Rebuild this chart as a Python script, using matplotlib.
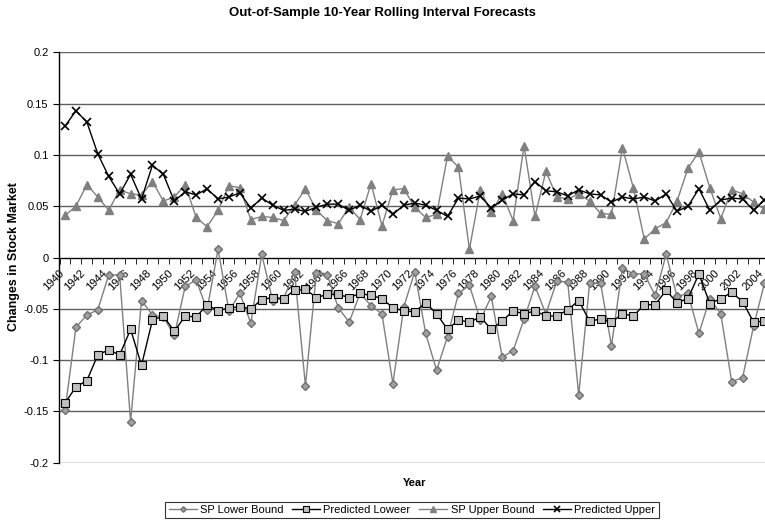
import numpy as np
import matplotlib
matplotlib.use("Agg")
import matplotlib.pyplot as plt
import matplotlib.transforms as mtransforms

plt.rcParams['font.family'] = ['Liberation Sans', 'DejaVu Sans']

years = list(range(1940, 2005))

sp_lower = [-0.149, -0.068, -0.056, -0.051, -0.017, -0.017, -0.160, -0.042, -0.056, -0.058,
            -0.076, -0.028, -0.022, -0.051, 0.008, -0.052, -0.035, -0.064, 0.003, -0.042,
            -0.040, -0.014, -0.125, -0.015, -0.017, -0.049, -0.063, -0.035, -0.047, -0.055,
            -0.123, -0.048, -0.014, -0.074, -0.110, -0.077, -0.035, -0.027, -0.061, -0.038,
            -0.097, -0.091, -0.060, -0.028, -0.055, -0.023, -0.024, -0.134, -0.025, -0.025,
            -0.086, -0.010, -0.016, -0.016, -0.037, 0.003, -0.038, -0.035, -0.074, -0.040,
            -0.055, -0.121, -0.117, -0.067, -0.025]

pred_lower = [-0.142, -0.126, -0.120, -0.095, -0.090, -0.095, -0.070, -0.105, -0.061, -0.057,
              -0.072, -0.057, -0.058, -0.046, -0.052, -0.049, -0.048, -0.050, -0.041, -0.039,
              -0.040, -0.032, -0.031, -0.039, -0.036, -0.036, -0.039, -0.035, -0.037, -0.040,
              -0.049, -0.052, -0.053, -0.044, -0.055, -0.070, -0.061, -0.063, -0.058, -0.070,
              -0.062, -0.052, -0.055, -0.052, -0.057, -0.057, -0.051, -0.042, -0.062, -0.060,
              -0.063, -0.055, -0.057, -0.046, -0.046, -0.032, -0.044, -0.040, -0.016, -0.045,
              -0.040, -0.034, -0.043, -0.063, -0.062]

sp_upper = [0.041, 0.050, 0.071, 0.059, 0.046, 0.066, 0.062, 0.061, 0.074, 0.055,
            0.059, 0.071, 0.039, 0.030, 0.046, 0.070, 0.068, 0.037, 0.040, 0.039,
            0.036, 0.051, 0.067, 0.046, 0.036, 0.033, 0.049, 0.037, 0.072, 0.031,
            0.066, 0.067, 0.049, 0.039, 0.042, 0.099, 0.088, 0.008, 0.066, 0.044,
            0.062, 0.036, 0.109, 0.040, 0.084, 0.059, 0.057, 0.062, 0.055, 0.043,
            0.042, 0.107, 0.068, 0.018, 0.028, 0.034, 0.055, 0.087, 0.103, 0.068,
            0.038, 0.066, 0.062, 0.054, 0.047]

pred_upper = [0.128, 0.143, 0.132, 0.101, 0.079, 0.062, 0.081, 0.057, 0.090, 0.081,
              0.055, 0.064, 0.061, 0.067, 0.057, 0.059, 0.063, 0.048, 0.058, 0.051,
              0.046, 0.047, 0.045, 0.049, 0.052, 0.052, 0.046, 0.051, 0.045, 0.051,
              0.042, 0.051, 0.053, 0.051, 0.046, 0.040, 0.058, 0.057, 0.060, 0.048,
              0.056, 0.062, 0.061, 0.074, 0.065, 0.064, 0.060, 0.066, 0.062, 0.061,
              0.054, 0.059, 0.057, 0.059, 0.055, 0.062, 0.045, 0.050, 0.067, 0.046,
              0.056, 0.058, 0.057, 0.046, 0.056]

x = np.arange(len(years))

fig = plt.figure(figsize=(7.65, 5.22), dpi=100)
ax = fig.add_axes([59/765, 59.3/522, 711.5/765, 410.4/522])

ax.plot(x, sp_lower, color='#808080', lw=1, marker='D', ms=4, mfc='#a0a0a0', mec='#707070',
        label='SP Lower Bound', zorder=3)
ax.plot(x, pred_lower, color='black', lw=1, marker='s', ms=6, mfc='#c0c0c0', mec='black',
        mew=0.8, label='Predicted Loweer', zorder=4)
ax.plot(x, sp_upper, color='#808080', lw=1, marker='^', ms=6, mfc='#808080', mec='#808080',
        label='SP Upper Bound', zorder=3)
ax.plot(x, pred_upper, color='black', lw=1, marker='x', ms=6, mew=1.2,
        label='Predicted Upper', zorder=4)

ax.set_xlim(-0.55, len(years) - 0.45)
ax.set_ylim(-0.2, 0.2)
ax.set_yticks(np.arange(-0.2, 0.201, 0.05))
ax.set_yticklabels(['-0.2', '-0.15', '-0.1', '-0.05', '0', '0.05', '0.1', '0.15', '0.2'], fontsize=8)
ax.yaxis.grid(True, color='#606060', lw=1)
ax.set_axisbelow(True)

for s in ['top', 'right']:
    ax.spines[s].set_visible(False)
ax.spines['bottom'].set_position(('data', 0))
ax.spines['bottom'].set_zorder(2)
ax.spines['left'].set_linewidth(1)
ax.tick_params(axis='y', length=4, direction='out')

ax.set_xticks(x[::2])
ax.set_xticklabels([str(y) for y in years[::2]], rotation=45, ha='right', va='center',
                   rotation_mode='anchor', fontsize=8)
ax.set_xticks(np.arange(-0.5, len(years), 1), minor=True)
ax.tick_params(axis='x', which='major', length=0, pad=10)
ax.tick_params(axis='x', which='minor', length=4, direction='out')
# nudge the year labels a little to the left, like the original
shift = mtransforms.ScaledTranslation(-3/100, 0, fig.dpi_scale_trans)
for lbl in ax.get_xticklabels():
    lbl.set_transform(lbl.get_transform() + shift)

fig.text(0.5, 0.975, 'Out-of-Sample 10-Year Rolling Interval Forecasts', ha='center', va='center',
         fontsize=9.5, fontweight='bold')
fig.text(415/765, 1 - 483/522, 'Year', ha='center', va='center', fontsize=8, fontweight='bold')
fig.text(14/765, 1 - 257/522, 'Changes in Stock Market', ha='center', va='center', rotation=90,
         fontsize=9, fontweight='bold')

leg = fig.legend(loc='center', bbox_to_anchor=(412/765, 1 - 510/522), ncol=4, fontsize=8,
                 frameon=True, fancybox=False, edgecolor='black', handlelength=2.5,
                 columnspacing=0.8, handletextpad=0.3, borderpad=0.3, markerscale=0.7)
leg.get_frame().set_linewidth(0.8)

fig.savefig('out.png', dpi=100)
